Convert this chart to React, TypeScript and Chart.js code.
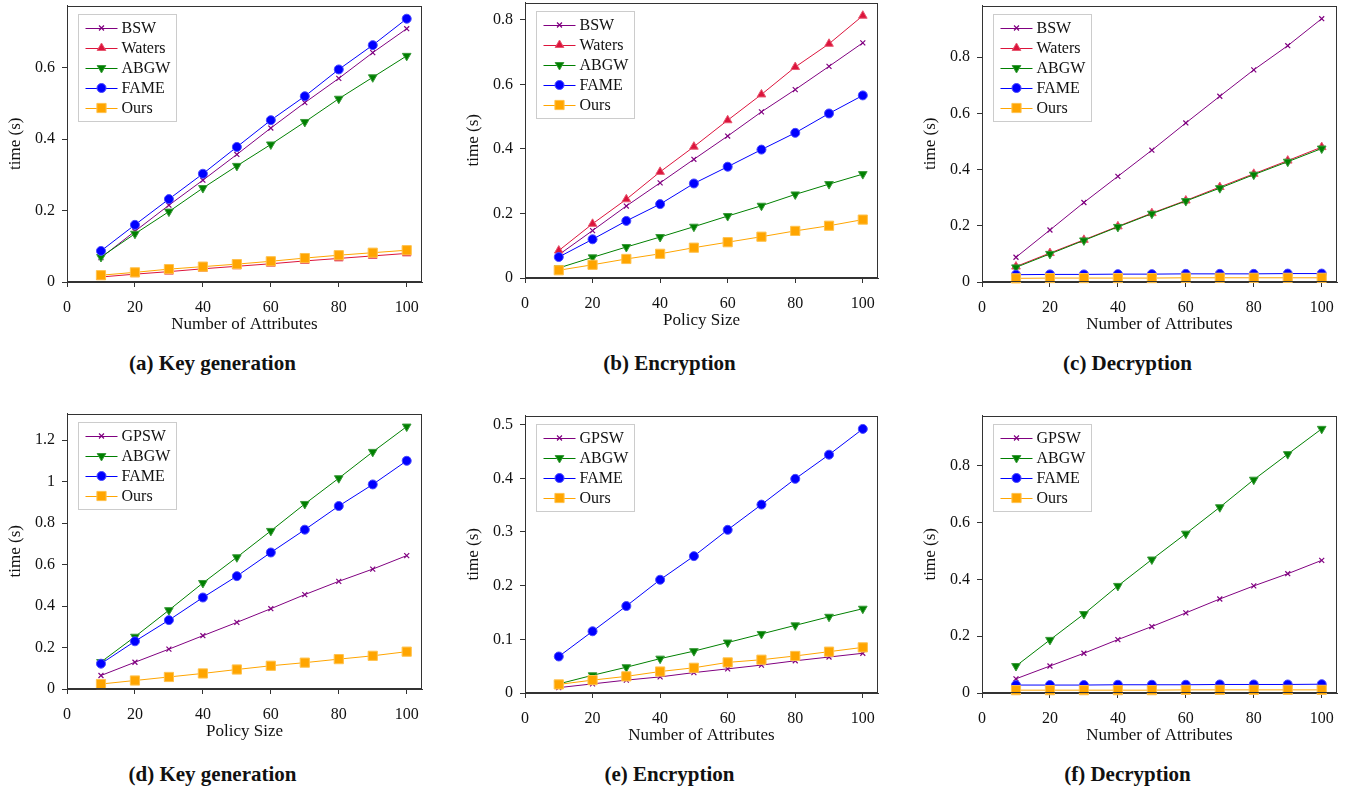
import React, { useEffect, useRef } from 'react';
import { Chart, registerables } from 'chart.js';
import { drawPoint } from 'chart.js/helpers';

Chart.register(...registerables);

const FONT = "'Liberation Serif', 'Times New Roman', serif";

// ---- data ----
const xValues = [10, 20, 30, 40, 50, 60, 70, 80, 90, 100];
const xTicks = [0, 20, 40, 60, 80, 100];

// (a) Key generation
const aBSW = [0.068, 0.142, 0.215, 0.285, 0.357, 0.431, 0.502, 0.570, 0.642, 0.709];
const aWaters = [0.014, 0.022, 0.029, 0.037, 0.044, 0.051, 0.059, 0.066, 0.073, 0.080];
const aABGW = [0.070, 0.135, 0.197, 0.263, 0.325, 0.385, 0.448, 0.513, 0.573, 0.633];
const aFAME = [0.087, 0.160, 0.232, 0.303, 0.378, 0.453, 0.520, 0.595, 0.663, 0.737];
const aOurs = [0.019, 0.027, 0.036, 0.043, 0.050, 0.058, 0.067, 0.075, 0.082, 0.089];
const aYTicks = [0, 0.2, 0.4, 0.6];

// (b) Encryption
const bBSW = [0.072, 0.147, 0.223, 0.295, 0.368, 0.440, 0.515, 0.584, 0.656, 0.729];
const bWaters = [0.085, 0.168, 0.244, 0.329, 0.407, 0.489, 0.569, 0.654, 0.726, 0.813];
const bABGW = [0.031, 0.064, 0.096, 0.127, 0.159, 0.192, 0.224, 0.259, 0.291, 0.322];
const bFAME = [0.065, 0.120, 0.177, 0.229, 0.293, 0.345, 0.398, 0.450, 0.510, 0.566];
const bOurs = [0.024, 0.041, 0.059, 0.075, 0.094, 0.111, 0.128, 0.146, 0.162, 0.181];
const bYTicks = [0, 0.2, 0.4, 0.6, 0.8];

// (c) Decryption
const cBSW = [0.088, 0.185, 0.283, 0.376, 0.469, 0.566, 0.661, 0.755, 0.841, 0.937];
const cWaters = [0.055, 0.103, 0.150, 0.198, 0.245, 0.290, 0.338, 0.385, 0.432, 0.480];
const cABGW = [0.052, 0.100, 0.148, 0.196, 0.243, 0.288, 0.334, 0.382, 0.428, 0.475];
const cFAME = [0.026, 0.027, 0.027, 0.028, 0.028, 0.029, 0.029, 0.029, 0.030, 0.030];
const cOurs = [0.013, 0.014, 0.014, 0.014, 0.014, 0.015, 0.015, 0.015, 0.015, 0.015];
const cYTicks = [0, 0.2, 0.4, 0.6, 0.8];

// (d) Key generation
const dGPSW = [0.065, 0.129, 0.192, 0.257, 0.321, 0.387, 0.455, 0.519, 0.578, 0.643];
const dABGW = [0.130, 0.252, 0.380, 0.511, 0.635, 0.762, 0.892, 1.016, 1.143, 1.265];
const dFAME = [0.122, 0.230, 0.332, 0.441, 0.544, 0.658, 0.768, 0.882, 0.986, 1.100];
const dOurs = [0.024, 0.041, 0.058, 0.075, 0.094, 0.112, 0.127, 0.144, 0.160, 0.180];
const dYTicks = [0, 0.2, 0.4, 0.6, 0.8, 1, 1.2];

// (e) Encryption
const eGPSW = [0.010, 0.017, 0.024, 0.030, 0.038, 0.045, 0.052, 0.060, 0.067, 0.074];
const eABGW = [0.017, 0.033, 0.048, 0.064, 0.078, 0.094, 0.110, 0.126, 0.142, 0.157];
const eFAME = [0.068, 0.115, 0.162, 0.211, 0.255, 0.304, 0.351, 0.399, 0.444, 0.492];
const eOurs = [0.016, 0.024, 0.031, 0.040, 0.047, 0.057, 0.062, 0.069, 0.077, 0.085];
const eYTicks = [0, 0.1, 0.2, 0.3, 0.4, 0.5];

// (f) Decryption
const fGPSW = [0.050, 0.095, 0.140, 0.188, 0.234, 0.282, 0.331, 0.377, 0.420, 0.467];
const fABGW = [0.095, 0.187, 0.278, 0.377, 0.470, 0.561, 0.654, 0.751, 0.841, 0.930];
const fFAME = [0.028, 0.028, 0.028, 0.029, 0.029, 0.029, 0.030, 0.030, 0.030, 0.031];
const fOurs = [0.010, 0.010, 0.010, 0.010, 0.010, 0.011, 0.011, 0.011, 0.011, 0.011];
const fYTicks = [0, 0.2, 0.4, 0.6, 0.8];

// ---- styles ----
type Style = { color: string; fill: string; edge: string; pointStyle: string; rotation: number; radius: number };
const STYLES: Record<string, Style> = {
  BSW: { color: '#800080', fill: '#800080', edge: '#800080', pointStyle: 'crossRot', rotation: 0, radius: 3.5 },
  GPSW: { color: '#800080', fill: '#800080', edge: '#800080', pointStyle: 'crossRot', rotation: 0, radius: 3.5 },
  Waters: { color: '#dc143c', fill: '#dc143c', edge: '#e8576f', pointStyle: 'triangle', rotation: 0, radius: 5 },
  ABGW: { color: '#008000', fill: '#008000', edge: '#3a9a3a', pointStyle: 'triangle', rotation: 180, radius: 5 },
  FAME: { color: '#0000ff', fill: '#0000ff', edge: '#4a4aff', pointStyle: 'circle', rotation: 0, radius: 4.5 },
  Ours: { color: '#ffa500', fill: '#ffa500', edge: '#ffc24d', pointStyle: 'rect', rotation: 0, radius: 6.5 },
};

type Box = { l: number; t: number; r: number; b: number };
type Panel = {
  box: Box;
  ymax: number;
  yTicks: number[];
  xTitle: string;
  caption: string;
  series: [string, number[]][];
};

const PANELS: Panel[] = [
  {
    box: { l: 67, t: 4, r: 422, b: 282 }, ymax: 0.774, yTicks: aYTicks, xTitle: 'Number of Attributes', caption: '(a) Key generation',
    series: [['BSW', aBSW], ['Waters', aWaters], ['ABGW', aABGW], ['FAME', aFAME], ['Ours', aOurs]],
  },
  {
    box: { l: 525, t: 1, r: 878, b: 278 }, ymax: 0.854, yTicks: bYTicks, xTitle: 'Policy Size', caption: '(b) Encryption',
    series: [['BSW', bBSW], ['Waters', bWaters], ['ABGW', bABGW], ['FAME', bFAME], ['Ours', bOurs]],
  },
  {
    box: { l: 982, t: 4, r: 1337, b: 282 }, ymax: 0.984, yTicks: cYTicks, xTitle: 'Number of Attributes', caption: '(c) Decryption',
    series: [['BSW', cBSW], ['Waters', cWaters], ['ABGW', cABGW], ['FAME', cFAME], ['Ours', cOurs]],
  },
  {
    box: { l: 67, t: 412, r: 422, b: 689 }, ymax: 1.328, yTicks: dYTicks, xTitle: 'Policy Size', caption: '(d) Key generation',
    series: [['GPSW', dGPSW], ['ABGW', dABGW], ['FAME', dFAME], ['Ours', dOurs]],
  },
  {
    box: { l: 525, t: 414, r: 878, b: 693 }, ymax: 0.517, yTicks: eYTicks, xTitle: 'Number of Attributes', caption: '(e) Encryption',
    series: [['GPSW', eGPSW], ['ABGW', eABGW], ['FAME', eFAME], ['Ours', eOurs]],
  },
  {
    box: { l: 982, t: 414, r: 1337, b: 693 }, ymax: 0.977, yTicks: fYTicks, xTitle: 'Number of Attributes', caption: '(f) Decryption',
    series: [['GPSW', fGPSW], ['ABGW', fABGW], ['FAME', fFAME], ['Ours', fOurs]],
  },
];

const CAPTION_Y = [363, 774];

const Y_AXIS_W = 62;
const X_AXIS_H = 55;
const PAD_TOP = 6;
const PAD_RIGHT = 8;

function PanelChart({ panel }: { panel: Panel }) {
  const ref = useRef<HTMLCanvasElement | null>(null);
  const { box } = panel;
  const width = box.r - box.l + Y_AXIS_W + PAD_RIGHT;
  const height = box.b - box.t + PAD_TOP + X_AXIS_H;

  useEffect(() => {
    const canvas = ref.current;
    if (!canvas) return;
    const n = panel.series.length;
    const datasets = panel.series.map(([name, vals], i) => {
      const st = STYLES[name];
      return {
        label: name,
        data: xValues.map((x, j) => ({ x, y: vals[j] })),
        borderColor: st.color,
        backgroundColor: st.fill,
        pointBackgroundColor: st.fill,
        pointBorderColor: st.edge,
        pointStyle: st.pointStyle,
        pointRotation: st.rotation,
        pointRadius: st.radius,
        pointHoverRadius: st.radius,
        pointBorderWidth: st.pointStyle === 'crossRot' ? 1.2 : 1,
        borderWidth: 1,
        tension: 0,
        clip: false,
        order: n - i,
      };
    });

    const framePlugin = {
      id: 'frame',
      afterDraw(chart: any) {
        const { ctx, chartArea } = chart;
        ctx.save();
        ctx.strokeStyle = '#333';
        ctx.lineWidth = 1;
        const l = Math.round(chartArea.left) + 0.5;
        const t = Math.round(chartArea.top) + 0.5;
        const r = Math.round(chartArea.right) - 0.5;
        const b = Math.round(chartArea.bottom) - 0.5;
        ctx.strokeRect(l, t, r - l, b - t);

        // legend
        const lx = Math.round(chartArea.left) + 11.5;
        const ly = Math.round(chartArea.top) + 8.5;
        const lw = 98;
        const rowH = 20;
        const lh = rowH * n + 7;
        ctx.fillStyle = '#fff';
        ctx.fillRect(lx, ly, lw, lh);
        ctx.strokeStyle = '#cccccc';
        ctx.strokeRect(lx, ly, lw, lh);
        panel.series.forEach(([name], i) => {
          const st = STYLES[name];
          const cy = ly + 13 + i * rowH;
          ctx.strokeStyle = st.color;
          ctx.lineWidth = 1;
          ctx.beginPath();
          ctx.moveTo(lx + 7, Math.round(cy) + 0.5);
          ctx.lineTo(lx + 39, Math.round(cy) + 0.5);
          ctx.stroke();
          ctx.fillStyle = st.fill;
          ctx.strokeStyle = st.edge;
          ctx.lineWidth = st.pointStyle === 'crossRot' ? 1.2 : 1;
          drawPoint(ctx, { pointStyle: st.pointStyle as any, rotation: st.rotation, radius: st.radius, borderWidth: ctx.lineWidth }, lx + 23, cy + 0.5);
          ctx.fillStyle = '#111';
          ctx.font = `16px ${FONT}`;
          ctx.textBaseline = 'middle';
          ctx.textAlign = 'left';
          ctx.fillText(name, lx + 43, cy + 1);
        });
        ctx.restore();
      },
    };

    const chart = new Chart(canvas, {
      type: 'line',
      data: { datasets: datasets as any },
      options: {
        animation: false,
        responsive: false,
        devicePixelRatio: 1,
        layout: { padding: { left: 0, top: PAD_TOP, right: PAD_RIGHT, bottom: 0 } },
        plugins: { legend: { display: false }, tooltip: { enabled: false }, title: { display: false } },
        scales: {
          x: {
            type: 'linear',
            position: 'bottom',
            min: 0,
            max: 104.5,
            afterFit: (s: any) => { s.height = X_AXIS_H; s.paddingLeft = 0; s.paddingRight = 0; },
            afterBuildTicks: (s: any) => { s.ticks = xTicks.map((v) => ({ value: v })); },
            ticks: {
              callback: (v: any) => String(v),
              font: { family: FONT, size: 16 },
              color: '#111',
              padding: 11,
              maxRotation: 0,
              autoSkip: false,
            },
            grid: { display: true, drawOnChartArea: false, drawTicks: true, tickLength: 5, color: '#333', tickColor: '#333' },
            border: { display: true, color: '#333', width: 1 },
            title: { display: true, text: panel.xTitle, font: { family: FONT, size: 17 }, color: '#111', padding: { top: 0, bottom: 2 } },
          },
          y: {
            type: 'linear',
            position: 'left',
            min: 0,
            max: panel.ymax,
            afterFit: (s: any) => { s.width = Y_AXIS_W; s.paddingTop = 0; s.paddingBottom = 0; },
            afterBuildTicks: (s: any) => { s.ticks = panel.yTicks.map((v) => ({ value: v })); },
            ticks: {
              callback: (v: any) => String(v),
              font: { family: FONT, size: 16 },
              color: '#111',
              padding: 7,
              autoSkip: false,
            },
            grid: { display: true, drawOnChartArea: false, drawTicks: true, tickLength: 5, color: '#333', tickColor: '#333' },
            border: { display: true, color: '#333', width: 1 },
            title: { display: true, text: 'time (s)', font: { family: FONT, size: 17 }, color: '#111', padding: { top: 0, bottom: 0 } },
          },
        },
      },
      plugins: [framePlugin],
    });
    return () => chart.destroy();
  }, [panel]);

  return (
    <canvas
      ref={ref}
      width={width}
      height={height}
      style={{ position: 'absolute', left: box.l - Y_AXIS_W, top: box.t - PAD_TOP, width, height }}
    />
  );
}

export default function App() {
  return (
    <div style={{ position: 'absolute', left: 0, top: 0, width: 1359, height: 793, background: '#fff', overflow: 'hidden' }}>
      {PANELS.map((p, i) => (
        <PanelChart key={i} panel={p} />
      ))}
      {PANELS.map((p, i) => {
        const cx = (p.box.l + p.box.r) / 2 - 32;
        const cy = CAPTION_Y[Math.floor(i / 3)];
        return (
          <div
            key={'c' + i}
            style={{
              position: 'absolute',
              left: cx - 150,
              top: cy - 13,
              width: 300,
              lineHeight: '26px',
              textAlign: 'center',
              fontFamily: FONT,
              fontWeight: 'bold',
              fontSize: 21,
              color: '#111',
            }}
          >
            {p.caption}
          </div>
        );
      })}
    </div>
  );
}
